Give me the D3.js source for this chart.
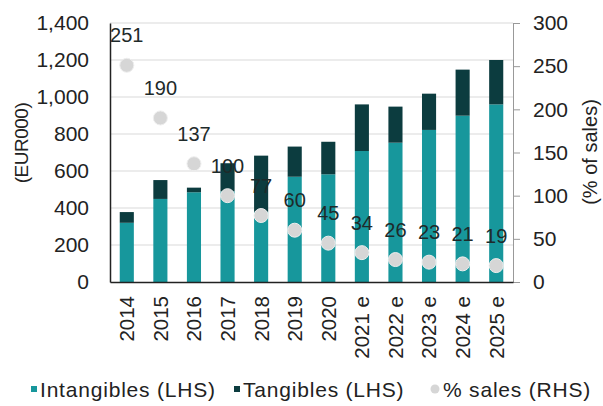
<!DOCTYPE html>
<html>
<head>
<meta charset="utf-8">
<script src="https://cdn.jsdelivr.net/npm/d3@7"></script>
<style>
  body { margin: 0; background: #fff; }
  text { font-family: "Liberation Sans", Arial, sans-serif; fill: #222; }
</style>
</head>
<body>
<svg width="603" height="406"></svg>
<script>
// chart data
var years = ['2014', '2015', '2016', '2017', '2018', '2019', '2020', '2021 e', '2022 e', '2023 e', '2024 e', '2025 e'];
var intangibles = [320, 449, 485, 490, 380, 569, 582, 708, 753, 822, 899, 960];
var tangibles = [58, 102, 25, 152, 303, 163, 176, 252, 195, 196, 249, 240];
var pctSales = [251, 190, 137, 100, 77, 60, 45, 34, 26, 23, 21, 19];
var leftTicks = [0, 200, 400, 600, 800, 1000, 1200, 1400];
var rightTicks = [0, 50, 100, 150, 200, 250, 300];

var svg = d3.select('svg');
var pl = 110, pr = 513, pt = 23, pb = 282;

var x = d3.scaleBand().domain(years).range([pl, pr]).paddingInner(0.58).paddingOuter(0.29);
var yL = d3.scaleLinear().domain([0, 1400]).range([pb, pt]);
var yR = d3.scaleLinear().domain([0, 300]).range([pb, pt]);

var rows = years.map(function(y, i){
    return {year: y, a: intangibles[i], b: tangibles[i], p: pctSales[i]};
});

// gridlines
svg.append('g')
    .selectAll('line')
    .data(leftTicks.slice(1))
    .enter()
    .append('line')
    .attr('x1', pl)
    .attr('x2', pr)
    .attr('y1', function(d){ return yL(d); })
    .attr('y2', function(d){ return yL(d); })
    .attr('stroke', '#d9d9d9')
    .attr('stroke-width', 1);

// bars
svg.append('g').selectAll('rect')
    .data(rows)
    .enter()
    .append('rect')
    .attr('x', function(d){ return x(d.year); })
    .attr('width', x.bandwidth())
    .attr('y', function(d){ return yL(d.a); })
    .attr('height', function(d){ return yL(0) - yL(d.a); })
    .attr('fill', '#17979c');

svg.append('g').selectAll('rect')
    .data(rows)
    .enter()
    .append('rect')
    .attr('x', function(d){ return x(d.year); })
    .attr('width', x.bandwidth())
    .attr('y', function(d){ return yL(d.a + d.b); })
    .attr('height', function(d){ return yL(d.a) - yL(d.a + d.b); })
    .attr('fill', '#0c3c3f');

// left axis
var axL = svg.append('g')
    .attr('transform', 'translate(' + pl + ',0)')
    .call(d3.axisLeft(yL).tickValues(leftTicks).tickSize(0).tickPadding(21).tickFormat(d3.format(',')));
axL.select('.domain').attr('stroke', '#222').attr('stroke-width', 1.5);
axL.selectAll('text').style('font-size', '21px').style('fill', '#222');

// right axis
var axR = svg.append('g')
    .attr('transform', 'translate(' + pr + ',0)')
    .call(d3.axisRight(yR).tickValues(rightTicks).tickSize(7).tickPadding(13).tickSizeOuter(0));
axR.select('.domain').attr('stroke', '#999');
axR.selectAll('line').attr('stroke', '#999');
axR.selectAll('text').style('font-size', '21px').style('fill', '#222');

// bottom axis
var axB = svg.append('g')
    .attr('transform', 'translate(0,' + pb + ')')
    .call(d3.axisBottom(x).tickSize(0).tickSizeOuter(0));
axB.select('.domain').attr('stroke', '#222').attr('stroke-width', 1.5);
axB.selectAll('text')
    .style('font-size', '20.5px')
    .style('fill', '#222')
    .attr('text-anchor', 'end')
    .attr('transform', 'rotate(-90)')
    .attr('x', -14)
    .attr('y', 0)
    .attr('dy', '0.36em');

// % sales dots and labels
svg.append('g').selectAll('circle')
    .data(rows)
    .enter()
    .append('circle')
    .attr('cx', function(d){ return x(d.year) + x.bandwidth() / 2; })
    .attr('cy', function(d){ return yR(d.p); })
    .attr('r', 7)
    .attr('fill', '#d6d6d6')
    .attr('stroke', '#eeeeee')
    .attr('stroke-width', 1);

svg.append('g').selectAll('text')
    .data(rows)
    .enter()
    .append('text')
    .attr('x', function(d){ return x(d.year) + x.bandwidth() / 2; })
    .attr('y', function(d){ return yR(d.p) - 23; })
    .attr('text-anchor', 'middle')
    .style('font-size', '20px')
    .style('fill', '#1e2a2a')
    .text(function(d){ return d.p; });

// axis titles
svg.append('text')
    .attr('transform', 'translate(21,143) rotate(-90)')
    .attr('text-anchor', 'middle')
    .attr('dy', '0.36em')
    .style('font-size', '19px')
    .style('letter-spacing', '-0.5px')
    .text('(EUR000)');

svg.append('text')
    .attr('transform', 'translate(590,152) rotate(-90)')
    .attr('text-anchor', 'middle')
    .attr('dy', '0.36em')
    .style('font-size', '20px')
    .text('(% of sales)');

// legend
var legend = [
    {name: 'Intangibles (LHS)', color: '#17979c', x: 31, shape: 'rect'},
    {name: 'Tangibles (LHS)', color: '#0c3c3f', x: 234, shape: 'rect'},
    {name: '% sales (RHS)', color: '#d6d6d6', x: 430, shape: 'circle'}
];
var lg = svg.append('g').selectAll('g')
    .data(legend)
    .enter()
    .append('g')
    .attr('transform', function(d){ return 'translate(' + d.x + ',389)'; });
lg.filter(function(d){ return d.shape == 'rect'; })
    .append('rect')
    .attr('x', 0).attr('y', -3).attr('width', 6).attr('height', 6)
    .attr('fill', function(d){ return d.color; });
lg.filter(function(d){ return d.shape == 'circle'; })
    .append('circle')
    .attr('cx', 5).attr('cy', 0).attr('r', 4.5)
    .attr('fill', function(d){ return d.color; });
lg.append('text')
    .attr('x', function(d){ return d.shape == 'rect' ? 9 : 13; })
    .attr('dy', '0.36em')
    .style('font-size', '21px')
    .style('letter-spacing', '0.8px')
    .text(function(d){ return d.name; });
</script>
</body>
</html>
